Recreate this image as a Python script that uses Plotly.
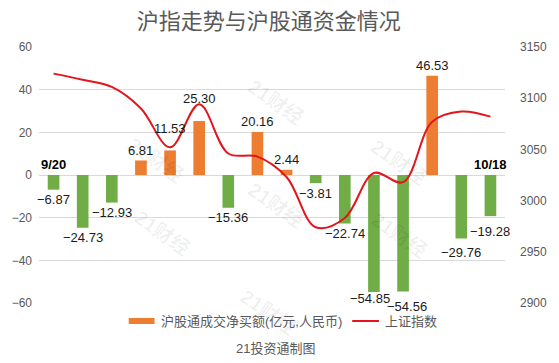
import plotly.graph_objects as go

# ---- data ----
dates = ["9/20", "9/23", "9/24", "9/25", "9/26", "9/27", "9/30", "10/8",
         "10/9", "10/10", "10/11", "10/14", "10/15", "10/16", "10/17", "10/18"]
net_buy = [-6.87, -24.73, -12.93, 6.81, 11.53, 25.30, -15.36, 20.16,
           2.44, -3.81, -22.74, -54.85, -54.56, 46.53, -29.76, -19.28]
sh_index = [3124, 3118, 3111, 3090, 3052, 3094, 3046, 3043,
            3023, 2974, 2983, 3027, 3018, 3077, 3087, 3082]
left_ticks = [-60, -40, -20, 0, 20, 40, 60]
right_ticks = [2900, 2950, 3000, 3050, 3100, 3150]

# ---- styles ----
ORANGE = "#ED7D31"
GREEN = "#70AD47"
RED = "#E3141B"
GRAY_TXT = "#595959"
GRID = "#D9D9D9"
FONT = "Liberation Sans, Noto Sans CJK SC, sans-serif"

idx = list(range(len(dates)))
colors = [ORANGE if v >= 0 else GREEN for v in net_buy]

fig = go.Figure()
fig.add_trace(go.Bar(x=idx, y=net_buy, marker_color=colors, width=0.4,
                     marker_line_width=0, showlegend=False, yaxis="y"))
fig.add_trace(go.Scatter(x=idx, y=sh_index, mode="lines",
                         line=dict(color=RED, width=2, shape="spline", smoothing=1.0),
                         showlegend=False, yaxis="y2"))

# value labels (extra nudges keep labels clear of the line / each other)
label_nudge = {4: 12, 5: 13, 11: -4, 12: 5, 14: 4, 15: 5}
label_xnudge = {11: -4, 12: 4}
annotations = []
for i, v in enumerate(net_buy):
    sign = 1 if v >= 0 else -1
    txt = f"{v:.2f}" if v >= 0 else "−" + f"{abs(v):.2f}"
    shift = sign * 10 + sign * label_nudge.get(i, 0)
    annotations.append(dict(x=i, y=v, xref="x", yref="y", text=txt, showarrow=False,
                            yanchor="middle", yshift=shift, xshift=label_xnudge.get(i, 0),
                            font=dict(size=13, color="#1a1a1a", family=FONT)))

for i in (0, len(dates) - 1):
    annotations.append(dict(x=i, y=0, xref="x", yref="y", text=f"<b>{dates[i]}</b>",
                            showarrow=False, yanchor="middle", yshift=11,
                            font=dict(size=13, color="#000000", family=FONT)))

# watermarks
def px2paper(px, py):
    return (px - 32) / 488, (303 - py) / 256

for (px, py) in [(118, 130), (280, 72), (445, 132), (280, 205), (125, 263), (445, 265), (272, 342)]:
    xp, yp = px2paper(px, py)
    annotations.append(dict(x=xp, y=yp, xref="paper", yref="paper", text="<b>21财经</b>",
                            showarrow=False, textangle=35,
                            font=dict(size=20, color="rgba(0,0,0,0.06)", family=FONT)))

# manual legend
lx, ly = px2paper(158, 321)
annotations.append(dict(x=lx, y=ly, xref="paper", yref="paper", xanchor="left", yanchor="middle",
                        text="沪股通成交净买额(亿元,人民币)", showarrow=False,
                        font=dict(size=13, color=GRAY_TXT, family=FONT)))
lx2, _ = px2paper(392, 321)
annotations.append(dict(x=lx2, y=ly, xref="paper", yref="paper", xanchor="left", yanchor="middle",
                        text="上证指数", showarrow=False,
                        font=dict(size=13, color=GRAY_TXT, family=FONT)))
fx, fy = px2paper(280, 348)
annotations.append(dict(x=fx, y=fy, xref="paper", yref="paper", xanchor="center", yanchor="middle",
                        text="21投资通制图", showarrow=False,
                        font=dict(size=13, color=GRAY_TXT, family=FONT)))

r0x, r0y = px2paper(126, 324)
r1x, r1y = px2paper(153, 318)
l0x, _ = px2paper(360, 321)
l1x, _ = px2paper(388, 321)
shapes = [
    dict(type="rect", xref="paper", yref="paper", x0=r0x, x1=r1x, y0=r0y, y1=r1y,
         fillcolor=ORANGE, line_width=0),
    dict(type="line", xref="paper", yref="paper", x0=l0x, x1=l1x, y0=ly, y1=ly,
         line=dict(color=RED, width=2)),
]

fig.update_layout(
    width=559, height=363,
    margin=dict(l=32, r=39, t=47, b=60),
    paper_bgcolor="white", plot_bgcolor="white",
    font=dict(family=FONT, color=GRAY_TXT),
    title=dict(text="沪指走势与沪股通资金情况", x=0.481, xanchor="center",
               y=1 - 21 / 363, yanchor="middle",
               font=dict(size=22, color=GRAY_TXT, family="Noto Sans CJK SC, sans-serif")),
    xaxis=dict(range=[-0.5, len(dates) - 0.5], showticklabels=False, showgrid=False,
               zeroline=False, showline=False, ticks=""),
    yaxis=dict(range=[-60, 60], tickvals=left_ticks, ticktext=[str(t) if t >= 0 else "−" + str(abs(t)) for t in left_ticks],
               showgrid=True, gridcolor=GRID, gridwidth=1, zeroline=False, showline=False,
               ticks="", tickfont=dict(size=12, color=GRAY_TXT), ticklabelstandoff=6),
    yaxis2=dict(range=[2900, 3150], tickvals=right_ticks, overlaying="y", side="right",
                showgrid=False, zeroline=False, showline=False, ticks="",
                tickfont=dict(size=12, color=GRAY_TXT), ticklabelstandoff=14),
    annotations=annotations,
    shapes=shapes,
    bargap=0.6,
)

fig.write_html("out.html")
